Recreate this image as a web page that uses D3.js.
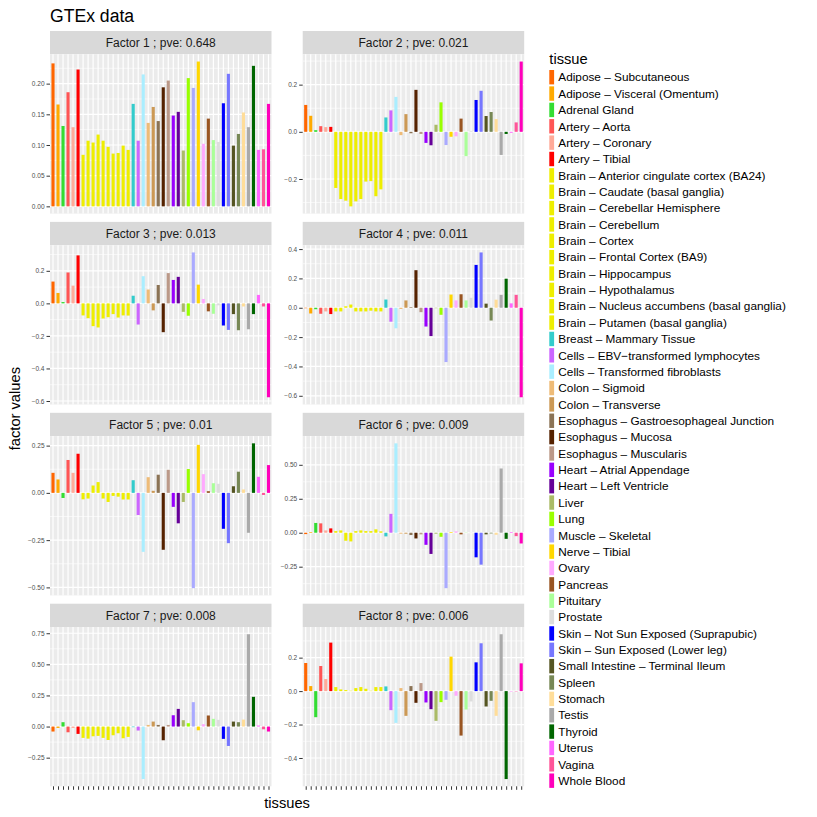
<!DOCTYPE html>
<html>
<head>
<meta charset="utf-8">
<script src="https://cdn.jsdelivr.net/npm/d3@7"></script>
<style>
  body { margin: 0; background: #fff; }
  text { font-family: "Liberation Sans", Arial, Helvetica, sans-serif; }
</style>
</head>
<body>
<svg id="chart" width="817" height="817"></svg>
<script>
// tissue names and their GTEx colours
var tissues = [
  'Adipose \u2013 Subcutaneous', 'Adipose \u2013 Visceral (Omentum)', 'Adrenal Gland',
  'Artery \u2013 Aorta', 'Artery \u2013 Coronary', 'Artery \u2013 Tibial',
  'Brain \u2013 Anterior cingulate cortex (BA24)', 'Brain \u2013 Caudate (basal ganglia)',
  'Brain \u2013 Cerebellar Hemisphere', 'Brain \u2013 Cerebellum', 'Brain \u2013 Cortex',
  'Brain \u2013 Frontal Cortex (BA9)', 'Brain \u2013 Hippocampus', 'Brain \u2013 Hypothalamus',
  'Brain \u2013 Nucleus accumbens (basal ganglia)', 'Brain \u2013 Putamen (basal ganglia)',
  'Breast \u2013 Mammary Tissue', 'Cells \u2013 EBV\u2212transformed lymphocytes',
  'Cells \u2013 Transformed fibroblasts', 'Colon \u2013 Sigmoid', 'Colon \u2013 Transverse',
  'Esophagus \u2013 Gastroesophageal Junction', 'Esophagus \u2013 Mucosa', 'Esophagus \u2013 Muscularis',
  'Heart \u2013 Atrial Appendage', 'Heart \u2013 Left Ventricle', 'Liver', 'Lung',
  'Muscle \u2013 Skeletal', 'Nerve \u2013 Tibial', 'Ovary', 'Pancreas', 'Pituitary', 'Prostate',
  'Skin \u2013 Not Sun Exposed (Suprapubic)', 'Skin \u2013 Sun Exposed (Lower leg)',
  'Small Intestine \u2013 Terminal Ileum', 'Spleen', 'Stomach', 'Testis', 'Thyroid',
  'Uterus', 'Vagina', 'Whole Blood'
]

var tissueColors = [
  '#FF6600', '#FFAA00', '#33DD33', '#FF5555', '#FFAA99', '#FF0000',
  '#EEEE00', '#EEEE00', '#EEEE00', '#EEEE00', '#EEEE00',
  '#EEEE00', '#EEEE00', '#EEEE00', '#EEEE00', '#EEEE00',
  '#33CCCC', '#CC66FF', '#AAEEFF', '#EEBB77', '#CC9955',
  '#8B7355', '#552200', '#BB9988', '#9900FF', '#660099', '#AABB66', '#99FF00',
  '#AAAAFF', '#FFD700', '#FFAAFF', '#995522', '#AAFF99', '#DDDDDD',
  '#0000FF', '#7777FF', '#555522', '#778855', '#FFDD99', '#AAAAAA', '#006600',
  '#FF66FF', '#FF5599', '#FF00BB'
]

var pve = ['0.648', '0.021', '0.013', '0.011', '0.01', '0.009', '0.008', '0.006']

// factor loadings per tissue
var f1 = [0.233, 0.166, 0.131, 0.186, 0.129, 0.223,
  0.084, 0.107, 0.104, 0.117, 0.107, 0.097, 0.086, 0.087, 0.099, 0.092,
  0.167, 0.107, 0.215, 0.136, 0.162, 0.139, 0.194, 0.205, 0.148, 0.154,
  0.091, 0.209, 0.193, 0.236, 0.102, 0.143, 0.108, 0.105, 0.168, 0.216,
  0.099, 0.118, 0.153, 0.129, 0.229, 0.092, 0.093, 0.167]
var f2 = [0.114, 0.068, 0.007, 0.024, 0.020, 0.021,
  -0.238, -0.285, -0.292, -0.316, -0.295, -0.285, -0.211, -0.209, -0.273, -0.244,
  0.061, 0.091, 0.148, -0.014, 0.075, -0.006, 0.178, -0.009, -0.047, -0.057,
  0.030, 0.125, -0.056, -0.021, -0.019, 0.056, -0.103, 0.003, 0.135, 0.174,
  0.067, 0.084, 0.054, -0.098, -0.009, -0.004, 0.040, 0.298]
var f3 = [0.134, 0.064, 0.008, 0.190, 0.109, 0.295,
  -0.074, -0.091, -0.140, -0.148, -0.093, -0.085, -0.066, -0.087, -0.074, -0.075,
  0.047, -0.130, 0.167, 0.085, -0.043, 0.113, -0.177, 0.186, 0.144, 0.163,
  -0.052, -0.076, 0.313, 0.115, 0.027, -0.049, -0.064, -0.012, -0.136, -0.163,
  -0.066, -0.165, -0.019, -0.159, -0.066, 0.052, -0.019, -0.577]
var f4 = [-0.003, -0.039, -0.010, -0.041, -0.025, -0.043,
  -0.025, -0.025, 0.010, 0.022, -0.025, -0.025, -0.025, -0.020, -0.025, -0.025,
  0.056, -0.095, -0.140, -0.008, 0.050, 0.004, 0.256, -0.030, -0.128, -0.193,
  -0.003, -0.048, -0.370, 0.090, 0.050, 0.092, 0.050, 0.068, 0.292, 0.377,
  0.028, -0.087, 0.055, 0.088, 0.198, 0.030, 0.088, -0.610]
var f5 = [0.106, 0.071, -0.027, 0.174, 0.106, 0.207,
  -0.034, -0.030, 0.039, 0.057, -0.030, -0.048, -0.016, -0.020, -0.035, -0.035,
  0.067, -0.117, -0.312, 0.083, 0.011, 0.096, -0.301, 0.122, -0.074, -0.161,
  -0.048, 0.126, -0.504, 0.254, 0.099, 0.009, 0.051, 0.048, -0.190, -0.266,
  0.035, 0.112, 0.018, -0.211, 0.262, 0.085, -0.011, 0.147]
var f6 = [-0.010, 0.005, 0.072, 0.069, 0.017, 0.032,
  0.012, 0.017, -0.059, -0.064, 0.012, 0.017, 0.012, 0.012, 0.025, 0.010,
  -0.027, 0.139, 0.658, -0.007, -0.007, -0.017, -0.042, -0.012, -0.089, -0.156,
  -0.007, -0.030, -0.408, 0.005, 0.010, -0.012, -0.002, -0.002, -0.181, -0.235,
  -0.012, -0.005, -0.015, 0.473, -0.045, 0.005, -0.025, -0.079]
var f7 = [-0.040, -0.011, 0.035, -0.046, -0.011, -0.059,
  -0.091, -0.097, -0.078, -0.075, -0.091, -0.108, -0.070, -0.054, -0.094, -0.083,
  -0.005, -0.032, -0.422, 0.013, 0.040, 0.013, -0.110, 0.013, 0.091, 0.142,
  0.051, 0.027, 0.196, -0.030, 0.019, 0.089, 0.062, 0.054, -0.099, -0.156,
  0.040, 0.035, 0.056, 0.742, 0.239, 0.008, -0.022, -0.040]
var f8 = [0.168, 0.030, -0.156, 0.150, 0.072, 0.290,
  0.024, 0.010, 0.006, 0.002, 0.018, 0.024, 0.014, 0.002, 0.024, 0.024,
  0.028, -0.114, -0.190, 0.018, -0.148, 0.030, -0.070, 0.048, -0.068, -0.108,
  -0.178, -0.066, -0.052, 0.206, -0.028, -0.266, -0.110, -0.062, 0.172, 0.286,
  -0.092, -0.058, -0.148, 0.340, -0.526, -0.002, -0.002, 0.166]

var yTicks = [
  [0, 0.05, 0.1, 0.15, 0.2],
  [-0.2, 0, 0.2],
  [-0.6, -0.4, -0.2, 0, 0.2],
  [-0.6, -0.4, -0.2, 0, 0.2, 0.4],
  [-0.5, -0.25, 0, 0.25],
  [-0.25, 0, 0.25, 0.5],
  [-0.25, 0, 0.25, 0.5, 0.75],
  [-0.4, -0.2, 0, 0.2]
]

var factors = [f1, f2, f3, f4, f5, f6, f7, f8]

// layout of the facet grid
var colX = [50, 302.7]
var panelW = 221.5
var rowTop = 31
var rowStep = 190.9
var stripH = 23.3
var panelH = 159.3

var svg = d3.select('#chart')

svg.append('text')
  .attr('x', 50).attr('y', 22)
  .attr('font-size', 17.6).attr('fill', '#000')
  .text('GTEx data')

var x = d3.scalePoint().domain(tissues).range([0, panelW]).padding(0.6)
var barW = x.step() * 0.62

// number of decimals shown, taken from the tick step (0.05 -> 2, 0.2 -> 1, 0.25 -> 2)
function decimals (step) {
  var s = String(+step.toFixed(4))
  return s.indexOf('.') < 0 ? 0 : s.length - s.indexOf('.') - 1
}

factors.forEach(function (vals, k) {
  var col = k % 2, row = Math.floor(k / 2)
  var gx = colX[col]
  var sy = rowTop + row * rowStep
  var py = sy + stripH

  // strip
  svg.append('rect')
    .attr('x', gx).attr('y', sy).attr('width', panelW).attr('height', stripH)
    .attr('fill', '#D9D9D9')
  svg.append('text')
    .attr('x', gx + panelW / 2).attr('y', sy + stripH / 2)
    .attr('dy', '0.36em').attr('text-anchor', 'middle')
    .attr('font-size', 12).attr('fill', '#1A1A1A')
    .text('Factor ' + (k + 1) + ' ; pve: ' + pve[k])

  var g = svg.append('g').attr('transform', 'translate(' + gx + ',' + py + ')')

  g.append('rect').attr('width', panelW).attr('height', panelH).attr('fill', '#EBEBEB')

  var lo = Math.min(0, d3.min(vals)), hi = Math.max(0, d3.max(vals))
  var pad = (hi - lo) * 0.05
  var y = d3.scaleLinear().domain([lo - pad, hi + pad]).range([panelH, 0])

  var ticks = yTicks[k]
  var step = ticks[1] - ticks[0]
  var minors = ticks.map(function (t) { return t - step / 2 })
  minors.push(ticks[ticks.length - 1] + step / 2)
  minors = minors.filter(function (m) { return m >= y.domain()[0] && m <= y.domain()[1] })

  g.selectAll('.minor').data(minors).enter().append('line')
    .attr('x1', 0).attr('x2', panelW)
    .attr('y1', function (d) { return y(d) }).attr('y2', function (d) { return y(d) })
    .attr('stroke', '#fff').attr('stroke-width', 0.6)
  g.selectAll('.major').data(ticks).enter().append('line')
    .attr('x1', 0).attr('x2', panelW)
    .attr('y1', function (d) { return y(d) }).attr('y2', function (d) { return y(d) })
    .attr('stroke', '#fff').attr('stroke-width', 1.2)
  g.selectAll('.vgrid').data(tissues).enter().append('line')
    .attr('x1', function (d) { return x(d) }).attr('x2', function (d) { return x(d) })
    .attr('y1', 0).attr('y2', panelH)
    .attr('stroke', '#fff').attr('stroke-width', 1.2)

  g.selectAll('.bar').data(vals).enter().append('rect')
    .attr('x', function (d, i) { return x(tissues[i]) - barW / 2 })
    .attr('width', barW)
    .attr('y', function (d) { return y(Math.max(0, d)) })
    .attr('height', function (d) { return Math.abs(y(d) - y(0)) })
    .attr('fill', function (d, i) { return tissueColors[i] })

  var yAxis = g.append('g')
    .call(d3.axisLeft(y).tickValues(ticks).tickSize(3.5).tickPadding(2)
      .tickFormat(d3.format('.' + decimals(step) + 'f')))
  yAxis.select('.domain').remove()
  yAxis.selectAll('line').attr('stroke', '#333333').attr('stroke-width', 1)
  yAxis.selectAll('text').attr('font-size', 6.5).attr('fill', '#4D4D4D')
    .style('font-family', '"Liberation Sans", Arial, sans-serif')

  if (row === 3) {
    var xAxis = g.append('g').attr('transform', 'translate(0,' + panelH + ')')
      .call(d3.axisBottom(x).tickSize(3.5).tickFormat(''))
    xAxis.select('.domain').remove()
    xAxis.selectAll('line').attr('stroke', '#333333').attr('stroke-width', 1)
  }
})

// axis titles
svg.append('text')
  .attr('x', (colX[0] + colX[1] + panelW) / 2).attr('y', 808)
  .attr('text-anchor', 'middle').attr('font-size', 14.7).attr('fill', '#000')
  .text('tissues')
svg.append('text')
  .attr('transform', 'translate(20,' + (rowTop + (rowTop + 3 * rowStep + stripH + panelH)) / 2 + ') rotate(-90)')
  .attr('text-anchor', 'middle').attr('font-size', 14.7).attr('fill', '#000')
  .text('factor values')

// legend
var legend = svg.append('g').attr('transform', 'translate(549.3,0)')
legend.append('text')
  .attr('x', 0).attr('y', 64)
  .attr('font-size', 14.7).attr('fill', '#000')
  .text('tissue')

var keys = legend.selectAll('.key').data(tissues).enter().append('g')
  .attr('transform', function (d, i) { return 'translate(0,' + (77.2 + i * 16.36) + ')' })
keys.append('rect')
  .attr('x', 0).attr('y', -7.2).attr('width', 4.8).attr('height', 14.4)
  .attr('fill', function (d, i) { return tissueColors[i] })
keys.append('text')
  .attr('x', 9).attr('dy', '0.36em')
  .attr('font-size', 11.8).attr('fill', '#000')
  .text(function (d) { return d })
</script>
</body>
</html>
